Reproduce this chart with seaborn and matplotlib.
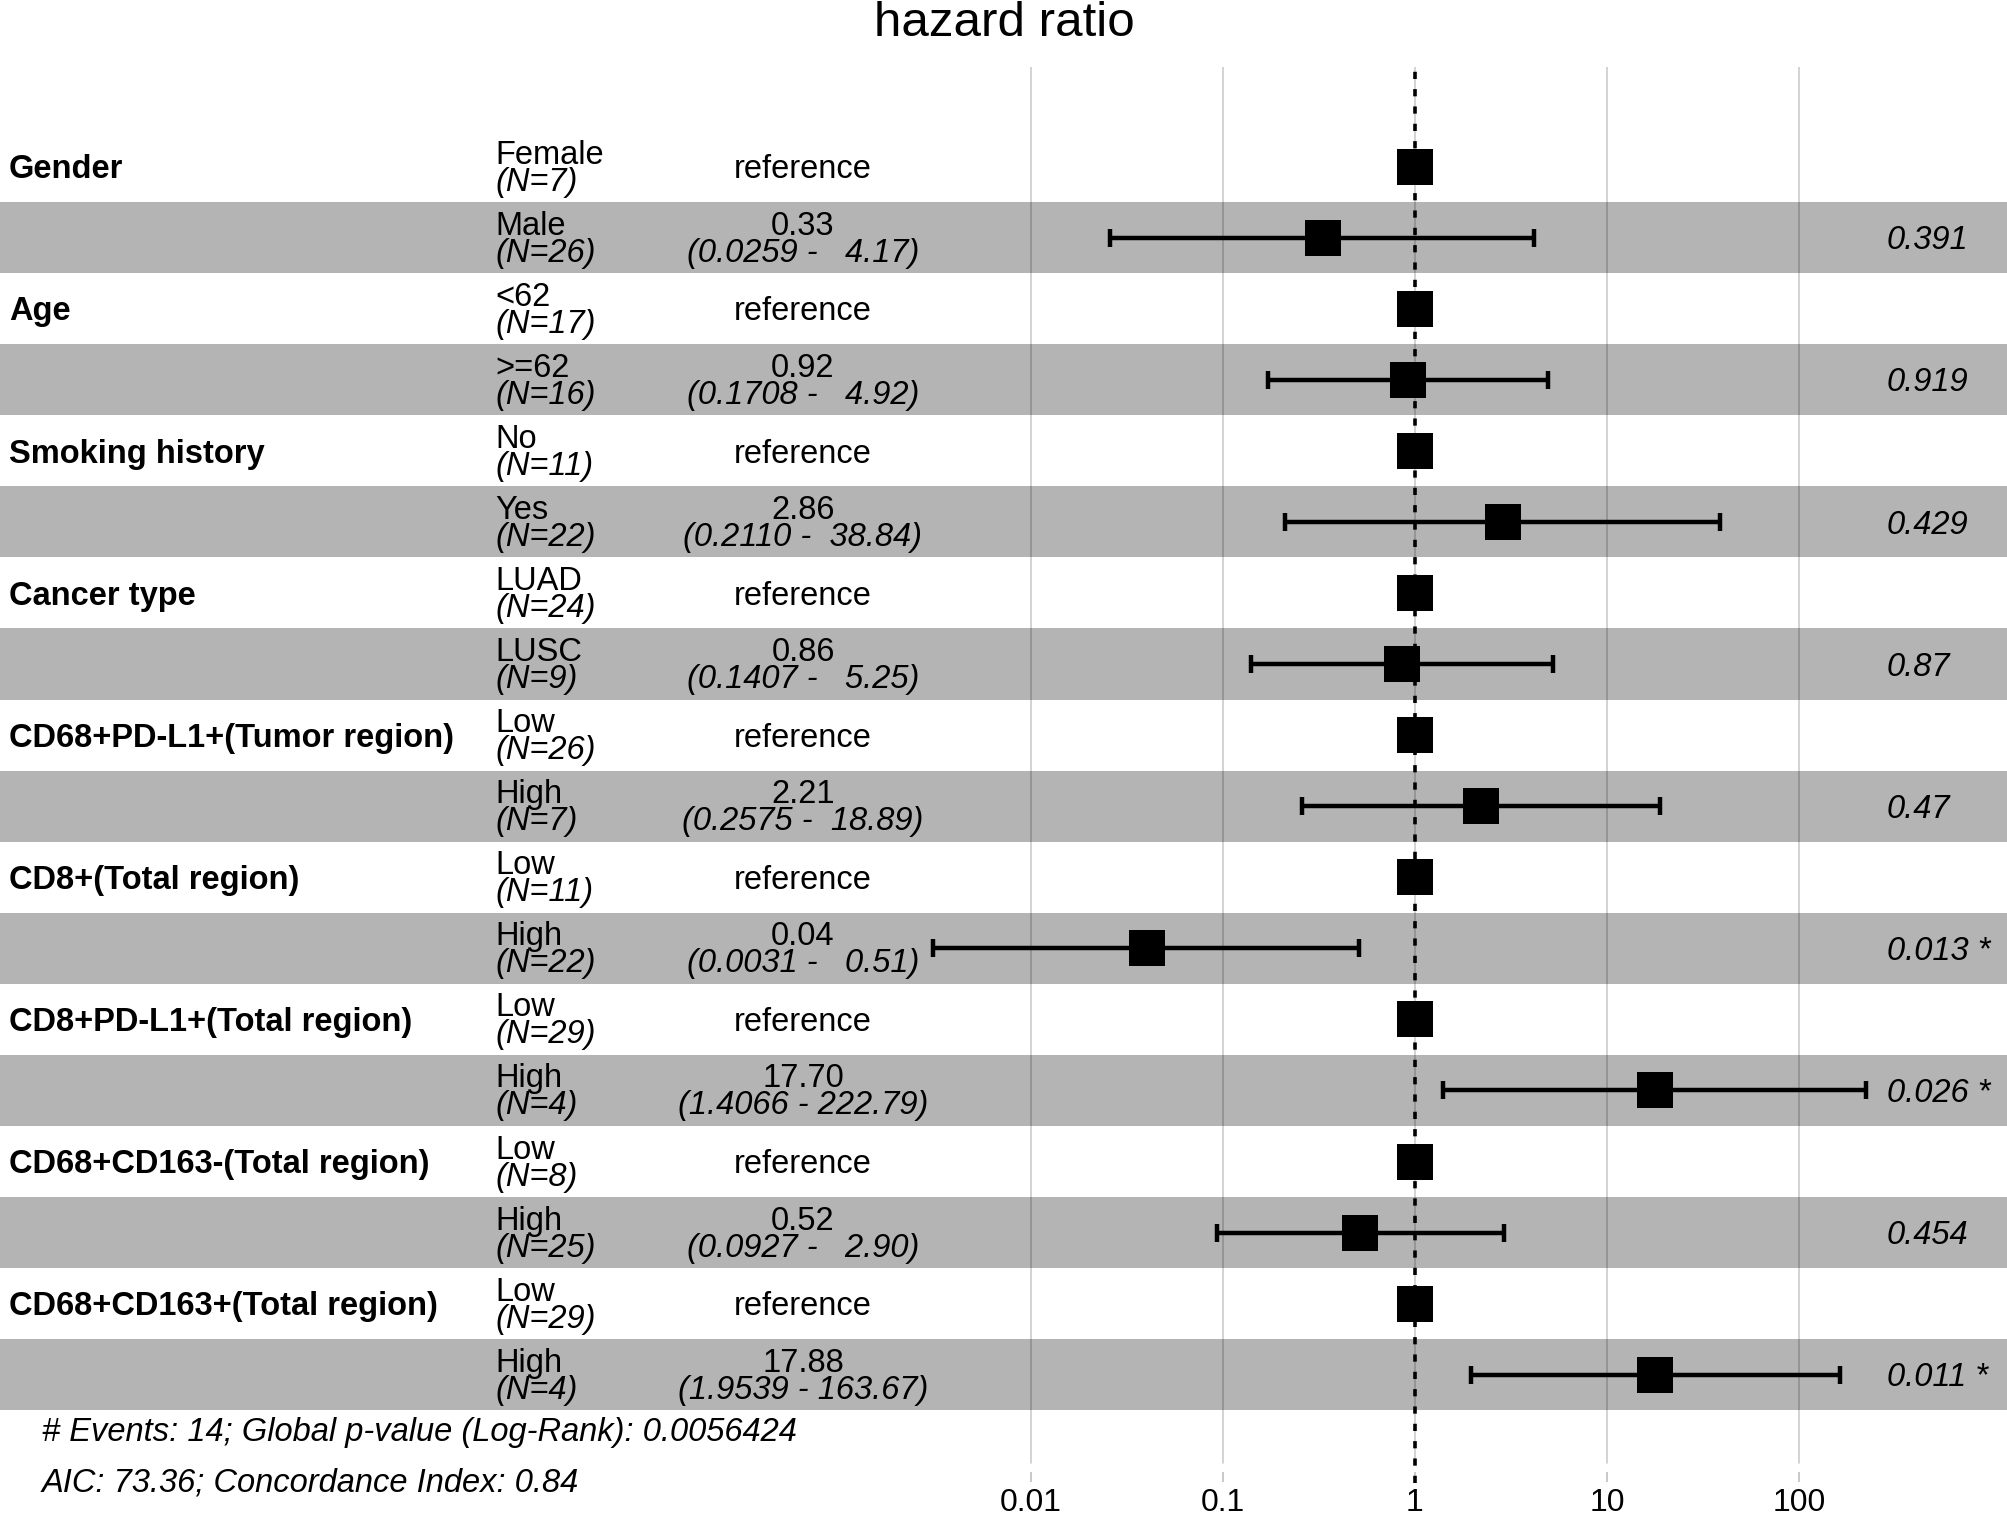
import matplotlib
matplotlib.use('Agg')
import matplotlib.pyplot as plt
import matplotlib.transforms as mtransforms
import seaborn as sns
import numpy as np
import pandas as pd

# Cox model summary (forest plot)
variables = ['Gender', 'Age', 'Smoking history', 'Cancer type',
             'CD68+PD-L1+(Tumor region)', 'CD8+(Total region)',
             'CD8+PD-L1+(Total region)', 'CD68+CD163-(Total region)',
             'CD68+CD163+(Total region)']
ref_levels = ['Female', '<62', 'No', 'LUAD', 'Low', 'Low', 'Low', 'Low', 'Low']
ref_n = [7, 17, 11, 24, 26, 11, 29, 8, 29]
alt_levels = ['Male', '>=62', 'Yes', 'LUSC', 'High', 'High', 'High', 'High', 'High']
alt_n = [26, 16, 22, 9, 7, 22, 4, 25, 4]
hr = [0.33, 0.92, 2.86, 0.86, 2.21, 0.04, 17.70, 0.52, 17.88]
ci_low = [0.0259, 0.1708, 0.2110, 0.1407, 0.2575, 0.0031, 1.4066, 0.0927, 1.9539]
ci_high = [4.17, 4.92, 38.84, 5.25, 18.89, 0.51, 222.79, 2.90, 163.67]
p_values = [0.391, 0.919, 0.429, 0.87, 0.47, 0.013, 0.026, 0.454, 0.011]
x_ticks = [0.01, 0.1, 1, 10, 100]
x_tick_labels = ['0.01', '0.1', '1', '10', '100']
footer_lines = ['# Events: 14; Global p-value (Log-Rank): 0.0056424',
                'AIC: 73.36; Concordance Index: 0.84']

sns.set_style('white')
plt.rcParams['font.family'] = ['Liberation Sans', 'DejaVu Sans']
plt.rcParams['text.color'] = 'black'

# one row per level, reference rows first in each pair
rows = []
for i, var in enumerate(variables):
    rows.append(dict(row=2 * i + 1, var=var, level=ref_levels[i], n=ref_n[i],
                     hr=1.0, lo=np.nan, hi=np.nan, p=np.nan))
    rows.append(dict(row=2 * i + 2, var='', level=alt_levels[i], n=alt_n[i],
                     hr=hr[i], lo=ci_low[i], hi=ci_high[i], p=p_values[i]))
df = pd.DataFrame(rows)

W, H = 2008, 1516
fig = plt.figure(figsize=(W / 100, H / 100), dpi=100)

# axes spans full width; log scale chosen so 1 sits at x=1415px, 192px per decade
ax_top, ax_bot = 67, 1472
ax = fig.add_axes([0, (H - ax_bot) / H, 1, (ax_bot - ax_top) / H])
ax.set_xscale('log')
ax.set_xlim(10 ** (-1415 / 192), 10 ** ((W - 1415) / 192))
row_h, row0 = 71.07, 131
ax.set_ylim((ax_bot - row0) / row_h + 0.5, (ax_top - row0) / row_h + 0.5)
for s in ax.spines.values():
    s.set_visible(False)

# alternating shaded bands
for r in df['row']:
    if r % 2 == 0:
        ax.axhspan(r - 0.5, r + 0.5, color='#b4b4b4', zorder=0, lw=0)

# vertical grid lines, drawn over the bands
grid_stop = 9 / (ax_bot - ax_top)
for t in x_ticks:
    ax.axvline(t, ymin=grid_stop, ymax=1, color='black', alpha=0.2, lw=1.2, zorder=1)
ax.axvline(1, ymin=-11 / (ax_bot - ax_top), ymax=1, color='black', lw=2.6,
           ls=(0, (2.0, 2.8)), zorder=2, clip_on=False)

# confidence intervals and point estimates
est = df.dropna(subset=['lo'])
ax.errorbar(est['hr'], est['row'], xerr=[est['hr'] - est['lo'], est['hi'] - est['hr']],
            fmt='none', ecolor='black', elinewidth=3.2, capsize=6.5, capthick=3.2, zorder=3)
sns.scatterplot(data=df, x='hr', y='row', marker='s', s=650, color='black',
                linewidth=0, ax=ax, zorder=4, legend=False)

# table columns
trans = mtransforms.blended_transform_factory(ax.transAxes, ax.transData)
fs = 23.5
one_line, line1, line2 = 0.165, -0.042, 0.338
for _, d in df.iterrows():
    r = d['row']
    if d['var']:
        ax.text(9 / W, r + one_line, d['var'], transform=trans, fontsize=fs,
                fontweight='bold', ha='left', va='baseline')
    ax.text(495 / W, r + line1, d['level'], transform=trans, fontsize=fs,
            ha='left', va='baseline')
    ax.text(495 / W, r + line2, f"(N={d['n']})", transform=trans, fontsize=fs,
            style='italic', ha='left', va='baseline')
    if np.isnan(d['lo']):
        ax.text(803 / W, r + one_line, 'reference', transform=trans, fontsize=fs,
                ha='center', va='baseline')
    else:
        ax.text(803 / W, r + line1, f"{d['hr']:.2f}", transform=trans, fontsize=fs,
                ha='center', va='baseline')
        ax.text(803 / W, r + line2, f"({d['lo']:.4f} - {d['hi']:6.2f})", transform=trans,
                fontsize=fs, style='italic', ha='center', va='baseline')
        ptxt = str(d['p']) + (' *' if d['p'] < 0.05 else '')
        ax.text(1887 / W, r + one_line, ptxt, transform=trans, fontsize=fs,
                style='italic', ha='left', va='baseline')

ax.set_xticks(x_ticks)
ax.set_xticklabels(x_tick_labels)
ax.minorticks_off()
ax.set_yticks([])
ax.tick_params(axis='x', length=7.2, width=1.2, color=(0, 0, 0, 0.25), pad=4,
               labelsize=23, labelcolor='black', bottom=True)
ax.set_xlabel('')
ax.set_ylabel('')

fig.text(0.5, 1 - 36 / H, 'hazard ratio', ha='center', va='baseline', fontsize=35.5)
fig.text(42 / W, 1 - 1441 / H, footer_lines[0], ha='left', va='baseline',
         fontsize=23.5, style='italic')
fig.text(42 / W, 1 - 1491 / H, footer_lines[1], ha='left', va='baseline',
         fontsize=23.5, style='italic')

fig.savefig('out.png', dpi=100, facecolor='white')
